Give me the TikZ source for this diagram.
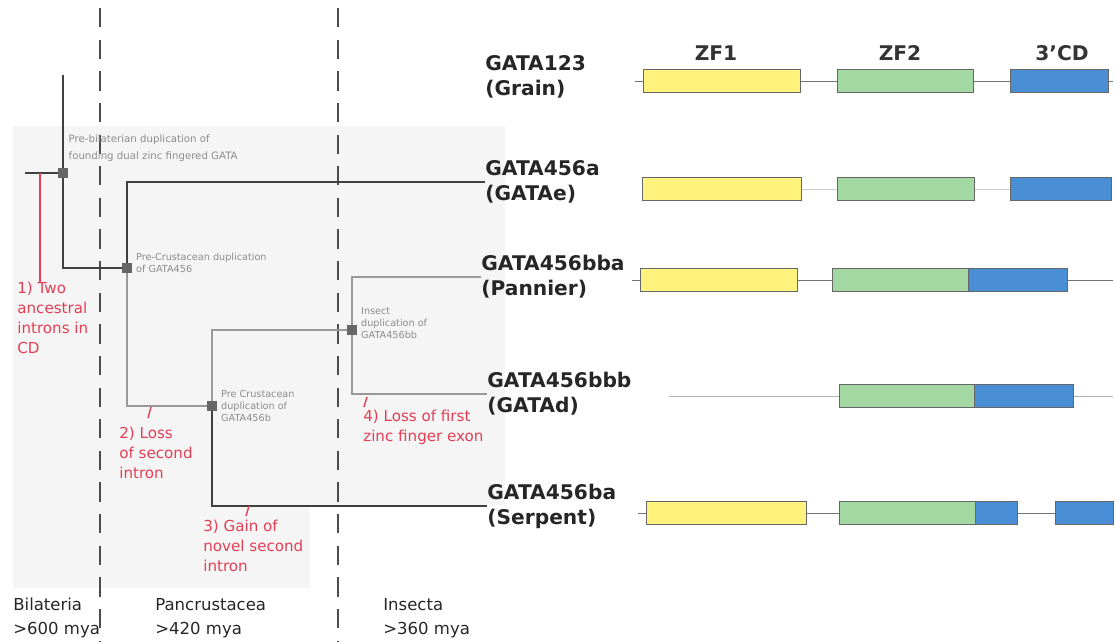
\documentclass[tikz,border=0pt]{standalone}
\usepackage{fontspec}
\setmainfont{DejaVu Sans}
\usepackage{xcolor}
\usepackage{tikz}
\usetikzlibrary{positioning}
\definecolor{evred}{RGB}{228,62,84}
\definecolor{zfyellow}{RGB}{255,242,125}
\definecolor{zfgreen}{RGB}{163,216,163}
\definecolor{cdblue}{RGB}{74,142,214}
\tikzstyle{dupnode} = [rectangle, fill=black!60, minimum size=0.2cm, inner sep=0pt]
\tikzstyle{note} = [font=\fontsize{5.5}{6.6}\selectfont, text=black!45, align=left, inner sep=0pt]
\tikzstyle{event} = [font=\fontsize{8.6}{11.3}\selectfont, text=evred, align=left, inner sep=0pt]
\tikzstyle{gene} = [font=\bfseries\fontsize{11.5}{14.2}\selectfont, text=black!85, align=left, inner sep=0pt]
\tikzstyle{zflabel} = [font=\bfseries\fontsize{11.5}{14}\selectfont, text=black!80, inner sep=0pt]
\tikzstyle{era} = [font=\fontsize{9.4}{13.6}\selectfont, text=black!85, align=left, inner sep=0pt]
\tikzstyle{branch} = [black!75, line width=0.9pt]
\tikzstyle{faint} = [black!40, line width=0.6pt]
\tikzstyle{timeline} = [black!70, line width=0.6pt, dash pattern=on 11pt off 7pt]
\tikzstyle{exon} = [draw=black!60, line width=0.4pt]
\tikzstyle{intron} = [black!55, line width=0.5pt]
\tikzstyle{evtick} = [evred, line width=0.8pt]

\begin{document}
\begin{tikzpicture}[x=0.02cm, y=-0.02cm]
    \useasboundingbox (0,0) rectangle (1115,642);
    \fill[black!4] (13,126) -- (505,126) -- (505,505) -- (310,505) -- (310,588) -- (13,588) -- cycle;

    % time boundaries
    \coordinate (t1a) at (100,8); \coordinate (t1b) at (100,642);
    \coordinate (t2a) at (338,8); \coordinate (t2b) at (338,642);
    \draw[timeline] (t1a) -- (t1b);
    \draw[timeline] (t2a) -- (t2b);

    % duplications
    \node[dupnode] (nB) at (63,173) {};
    \node[dupnode] (nC) at (127,268) {};
    \node[dupnode] (nD) at (212,406) {};
    \node[dupnode] (nI) at (352,330) {};

    \node[gene, anchor=west] (g123) at (485,77) {GATA123\\(Grain)};
    \node[gene, anchor=west] (gA) at (485,182) {GATA456a\\(GATAe)};
    \node[gene, anchor=west] (gBBA) at (481,277) {GATA456bba\\(Pannier)};
    \node[gene, anchor=west] (gBBB) at (487,394) {GATA456bbb\\(GATAd)};
    \node[gene, anchor=west] (gBA) at (487,506) {GATA456ba\\(Serpent)};

    \coordinate (root) at (25,173);
    \coordinate (top) at (63,75);
    \draw[branch] (root) -- (nB);
    \draw[branch] (nB) -- (top);
    \draw[branch] (nB) |- (nC);
    \draw[branch] (nC) |- (gA.west);
    \draw[faint] (nC) |- (nD);
    \draw[faint] (nD) |- (nI);
    \draw[branch] (nD) |- (gBA.west);
    \draw[faint] (nI) |- (gBBA.west);
    \draw[faint] (nI) |- (gBBB.west);

    \node[note, above right=3pt and 0pt of nB, font=\fontsize{5.8}{10}\selectfont] (nBtxt) {Pre-bilaterian duplication of\\founding dual zinc fingered GATA};
    \node[note, right=2pt of nC, yshift=3pt] (nCtxt) {Pre-Crustacean duplication\\of GATA456};
    \node[note, right=2pt of nD] (nDtxt) {Pre Crustacean\\duplication of\\GATA456b};
    \node[note, right=2pt of nI, yshift=4pt] (nItxt) {Insect\\duplication of\\GATA456bb};

    % intron events
    \coordinate (m1) at (40,173);
    \node[event, anchor=north west] (e1) at (17,282) {1) Two\\ancestral\\introns in\\CD};
    \draw[evtick] (m1) -- (m1 |- e1.north);
    \node[event, anchor=north west] (e2) at (119,427) {2) Loss\\of second\\intron};
    \node[event, anchor=north west] (e3) at (203,520) {3) Gain of\\novel second\\intron};
    \node[event, anchor=north west] (e4) at (363,410) {4) Loss of first\\zinc finger exon};
    \draw[evtick] (151,407) -- (148,418);
    \draw[evtick] (249,506) -- (246,516);
    \draw[evtick] (367,397) -- (364,407);

    \node[era, anchor=north west] (bil) at (13,598) {Bilateria\\>600 mya};
    \node[era, anchor=north west] (pan) at (155,598) {Pancrustacea\\>420 mya};
    \node[era, anchor=north west] (ins) at (383,598) {Insecta\\>360 mya};

    % gene structures
    \node[zflabel] (zf1) at (716,53) {ZF1};
    \node[zflabel] (zf2) at (900,53) {ZF2};
    \node[zflabel] (cd3) at (1062,53) {3'CD};

    \draw[intron] (635,81) -- (1113,81);
    \filldraw[exon, fill=zfyellow] (643,69.5) rectangle (800,92.5);
    \filldraw[exon, fill=zfgreen] (837,69.5) rectangle (973,92.5);
    \filldraw[exon, fill=cdblue] (1010,69.5) rectangle (1108,92.5);

    \draw[intron, black!20] (800,189) -- (1010,189);
    \filldraw[exon, fill=zfyellow] (642,177.5) rectangle (801,200.5);
    \filldraw[exon, fill=zfgreen] (837,177.5) rectangle (974,200.5);
    \filldraw[exon, fill=cdblue] (1010,177.5) rectangle (1111,200.5);

    \draw[intron] (632,280) -- (1113,280);
    \filldraw[exon, fill=zfyellow] (640,268.5) rectangle (797,291.5);
    \filldraw[exon, fill=zfgreen] (832,268.5) rectangle (968,291.5);
    \filldraw[exon, fill=cdblue] (968,268.5) rectangle (1067,291.5);

    \draw[intron, black!30] (669,396) -- (1113,396);
    \filldraw[exon, fill=zfgreen] (839,384.5) rectangle (974,407.5);
    \filldraw[exon, fill=cdblue] (974,384.5) rectangle (1073,407.5);

    \draw[intron] (638,513) -- (1113,513);
    \filldraw[exon, fill=zfyellow] (646,501.5) rectangle (806,524.5);
    \filldraw[exon, fill=zfgreen] (839,501.5) rectangle (975,524.5);
    \filldraw[exon, fill=cdblue] (975,501.5) rectangle (1017,524.5);
    \filldraw[exon, fill=cdblue] (1055,501.5) rectangle (1113,524.5);
\end{tikzpicture}
\end{document}
